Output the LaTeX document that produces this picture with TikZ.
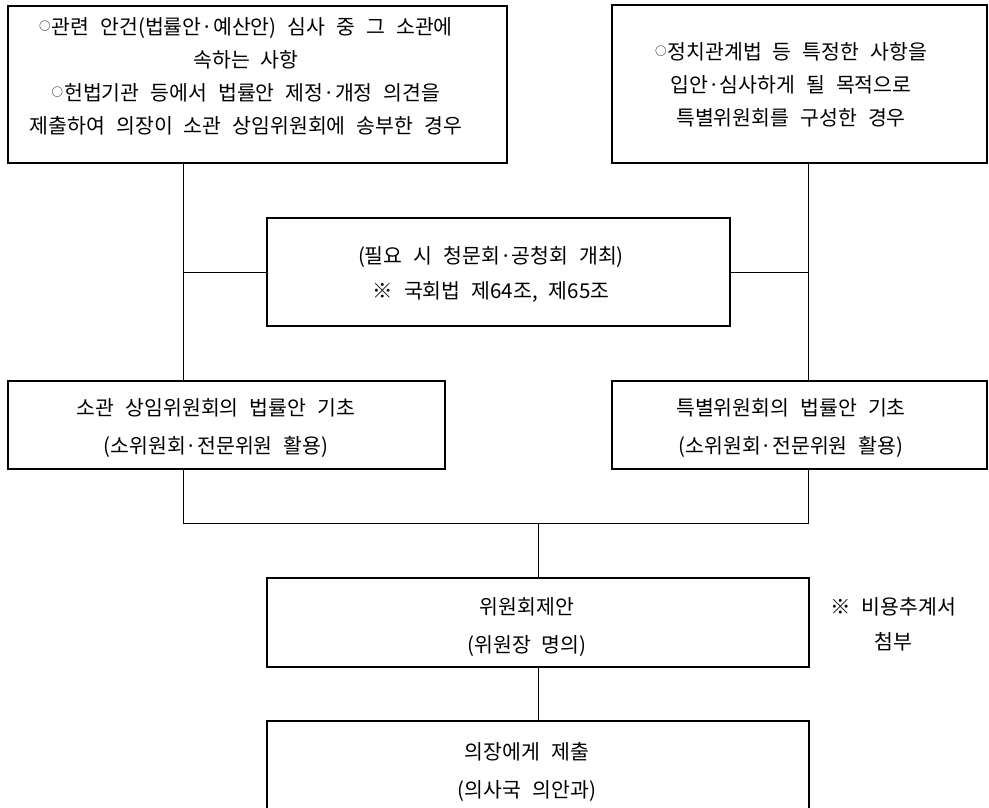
\documentclass[tikz,border=0pt]{standalone}
\usepackage{fontspec}
\setmainfont[WordSpace=2.4]{Noto Sans CJK KR}
\newcommand{\smallcirc}{\raisebox{4.5pt}{\fontsize{11.5}{11.5}\selectfont ○}\hspace{1pt}}
\begin{document}
\begin{tikzpicture}[x=1pt,y=-1pt,
  box/.style={draw, line width=1.3pt, rectangle, inner sep=0pt},
  link/.style={draw, line width=0.8pt},
  txt/.style={align=center, inner sep=0pt, font=\fontsize{20.5}{33}\selectfont},
  txtw/.style={align=center, inner sep=0pt, font=\fontsize{20.5}{38}\selectfont}]
\useasboundingbox (0,0) rectangle (989,808);
\clip (0,0) rectangle (989,808);
% boxes
\node[box, minimum width=499pt, minimum height=157pt] (A) at (257.5,84.5) {};
\node[box, minimum width=375pt, minimum height=158pt] (B) at (799.5,84) {};
\node[box, minimum width=463pt, minimum height=108pt] (C) at (498.5,272) {};
\node[box, minimum width=437pt, minimum height=88pt] (D) at (226.5,425) {};
\node[box, minimum width=375pt, minimum height=88pt] (E) at (799.5,425) {};
\node[box, minimum width=542pt, minimum height=89pt] (F) at (538,622.5) {};
\node[box, minimum width=542pt, minimum height=91pt] (G) at (538,766.5) {};
% texts
\node[txt] (tA) at (246,76.5) {\smallcirc 관련 안건(법률안·예산안) 심사 중 그 소관에\\속하는 사항\\\smallcirc 헌법기관 등에서 법률안 제정·개정 의견을\\제출하여 의장이 소관 상임위원회에 송부한 경우};
\node[txt] (tB) at (791,85) {\smallcirc 정치관계법 등 특정한 사항을\\입안·심사하게 될 목적으로\\특별위원회를 구성한 경우};
\node[txt, font=\fontsize{20.5}{35}\selectfont] (tC) at (491,274.5) {(필요 시 청문회·공청회 개최)\\※ 국회법 제64조, 제65조};
\node[txtw] (tD) at (216,428) {소관 상임위원회의 법률안 기초\\(소위원회·전문위원 활용)};
\node[txtw] (tE) at (791,428) {특별위원회의 법률안 기초\\(소위원회·전문위원 활용)};
\node[txtw] (tF) at (527,627) {위원회제안\\(위원장 명의)};
\node[txtw] (tG) at (527,772) {의장에게 제출\\(의사국 의안과)};
\node[txt, font=\fontsize{20.5}{35}\selectfont] (note) at (893,624) {※ 비용추계서\\첨부};
% connectors
\coordinate (lx) at (183,0);
\coordinate (rx) at (808,0);
\coordinate (j) at (538,523);
\draw[link] (lx |- A.south) -- (lx |- D.north);
\draw[link] (rx |- B.south) -- (rx |- E.north);
\draw[link] (lx |- C.west) -- (C.west);
\draw[link] (C.east) -- (rx |- C.east);
\draw[link] (lx |- D.south) -- (lx |- j) -- (rx |- j) -- (rx |- E.south);
\draw[link] (j) -- (F.north);
\draw[link] (F.south) -- (G.north);
\end{tikzpicture}
\end{document}
